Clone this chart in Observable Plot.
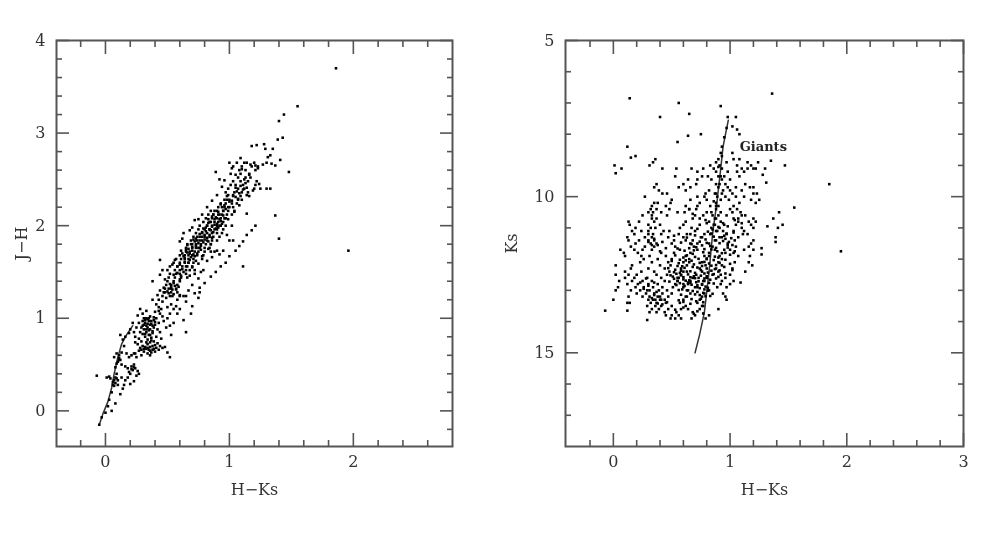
<!DOCTYPE html>
<html><head><meta charset="utf-8">
<script src="https://cdn.jsdelivr.net/npm/d3@7"></script>
<script src="https://cdn.jsdelivr.net/npm/@observablehq/plot@0.6"></script>
<style>
html,body{margin:0;padding:0;background:#fff;overflow:hidden}
#wrap{position:relative;width:981px;height:549px}
#wrap svg{position:absolute;top:0;filter:blur(0.7px)}
</style></head><body><div id="wrap"></div>
<script>
// Left panel: J-H against H-Ks
const leftOutliers=[[1.86,3.7],[1.96,1.73],[1.55,3.29],[1.44,3.2],[1.40,3.13],[1.40,1.86],[1.37,2.11],[1.48,2.58],[1.43,2.95],[1.39,2.93],[1.41,2.71],[1.11,1.56],[1.33,2.4],[1.30,2.4],[1.18,2.86],[1.22,2.87],[1.28,2.88],[1.29,2.83],[1.35,2.83],[1.31,2.74],[1.33,2.76],[1.30,2.68],[1.27,2.66],[1.34,2.67],[1.37,2.65],[1.09,2.73],[1.12,2.68],[1.17,2.66],[1.21,2.65],[1.23,2.62],[0.89,2.58],[1.14,2.13],[1.21,2.0],[1.18,1.95],[1.14,1.9],[1.11,1.83],[1.08,1.78],[1.05,1.73],[1.0,1.67],[0.97,1.6],[0.93,1.56],[0.89,1.5],[0.85,1.45],[0.8,1.38],[0.76,1.33],[0.72,1.27],[1.0,1.84],[1.03,1.84],[0.9,1.73],[0.95,1.73],[0.88,1.72],[0.92,1.69],[0.86,1.66],[0.82,1.62],[0.77,1.5],[0.75,1.43],[0.7,1.36],[0.67,1.3],[0.75,1.22],[0.65,1.18],[0.7,1.13],[0.69,1.05],[0.6,1.1],[0.58,1.05],[0.63,0.98],[0.55,0.95],[0.52,0.92],[0.65,0.85],[0.53,0.82],[0.52,0.58],[0.5,0.63],[0.44,1.63],[0.38,1.4]];
const leftSequence=[[-0.05,-0.15],[-0.03,-0.07],[0.0,-0.02],[0.02,0.05],[0.03,0.12],[0.05,0.2],[0.06,0.28],[0.04,0.35],[0.07,0.33],[0.09,0.4],[0.08,0.47],[0.1,0.53],[0.12,0.55],[0.11,0.6],[0.13,0.63],[0.15,0.7],[0.14,0.77],[0.16,0.8],[0.12,0.82],[0.19,0.84],[-0.07,0.38],[0.01,0.36],[0.03,0.37],[0.08,0.3],[0.1,0.28],[0.13,0.36],[0.16,0.33],[0.18,0.36],[0.2,0.29],[0.12,0.18],[0.14,0.24],[0.08,0.08],[0.19,0.42],[0.22,0.44],[0.24,0.46],[0.25,0.38],[0.21,0.48],[0.16,0.48],[0.19,0.58],[0.21,0.6],[0.24,0.62],[0.17,0.62],[0.27,0.4],[0.23,0.32],[0.15,0.28],[0.05,0.0],[0.11,0.55],[0.09,0.51],[0.13,0.5],[0.07,0.27],[0.06,0.31],[0.1,0.33],[0.18,0.46],[0.23,0.5],[0.26,0.43],[0.2,0.4],[0.09,0.62],[0.07,0.58]];
const leftClump=[[0.28,1.1],[0.26,1.03],[0.3,1.05],[0.33,1.0],[0.36,1.02],[0.39,0.98],[0.41,1.0],[0.27,0.95],[0.3,0.97],[0.32,0.95],[0.35,0.97],[0.37,0.94],[0.4,0.93],[0.43,0.95],[0.25,0.9],[0.29,0.9],[0.31,0.88],[0.34,0.9],[0.36,0.88],[0.39,0.9],[0.42,0.88],[0.28,0.85],[0.3,0.83],[0.33,0.85],[0.35,0.82],[0.38,0.84],[0.44,0.85],[0.24,0.8],[0.27,0.78],[0.32,0.8],[0.34,0.77],[0.37,0.79],[0.41,0.8],[0.45,0.78],[0.29,0.75],[0.33,0.74],[0.36,0.74],[0.39,0.75],[0.42,0.73],[0.24,0.74],[0.26,0.72],[0.28,0.68],[0.3,0.7],[0.33,0.67],[0.36,0.69],[0.38,0.66],[0.41,0.68],[0.44,0.7],[0.46,0.68],[0.27,0.65],[0.31,0.64],[0.34,0.62],[0.37,0.63],[0.4,0.64],[0.43,0.66],[0.48,0.69],[0.23,0.62],[0.36,0.6],[0.29,0.6],[0.25,0.58],[0.4,1.07],[0.43,1.12],[0.46,1.18],[0.49,0.9],[0.47,0.97],[0.5,1.0],[0.52,1.05],[0.55,1.1],[0.44,1.05],[0.33,1.08],[0.22,0.95],[0.2,0.88],[0.23,0.85],[0.45,1.1],[0.5,1.12],[0.53,1.15],[0.57,1.13],[0.41,1.15],[0.38,1.2],[0.43,1.2],[0.46,1.24],[0.42,1.25],[0.44,1.3],[0.47,1.33],[0.31,1.0],[0.34,0.99],[0.36,0.93],[0.33,0.92],[0.39,1.01],[0.3,0.92],[0.35,0.87],[0.32,0.83],[0.38,0.7],[0.35,0.66],[0.32,0.69],[0.4,0.71],[0.29,0.66],[0.37,0.76],[0.34,0.72],[0.43,1.08],[0.46,1.02],[0.49,1.22],[0.51,1.27],[0.54,1.24],[0.48,1.28],[0.58,1.2],[0.6,1.25],[0.63,1.24]];
const leftBandRows=[
[2.68,[1.0,1.06,1.14,1.2]],[2.64,[1.03,1.1,1.18,1.23]],[2.6,[1.08,1.13,1.21]],[2.56,[1.01,1.09,1.16]],[2.52,[1.07,1.13,1.17]],
[2.48,[1.03,1.09,1.15,1.22]],[2.44,[1.01,1.05,1.11,1.21]],[2.4,[.99,1.07,1.12,1.2,1.25]],[2.36,[.97,1.04,1.1,1.15]],
[2.32,[.98,1.03,1.09,1.16]],[2.28,[.96,1.0,1.07,1.1]],[2.24,[.93,.97,1.02,1.06]],[2.2,[.91,.96,.99,1.03]],
[2.16,[.85,.9,.95,.99,1.04]],[2.12,[.83,.87,.91,.94,.98,1.02]],[2.08,[.81,.86,.9,.93,.96]],[2.04,[.79,.84,.88,.91,.95]],
[2.0,[.76,.82,.86,.9,.93,.97]],[1.96,[.75,.8,.84,.88,.9,.95]],[1.92,[.73,.78,.82,.86,.9,.94]],[1.88,[.71,.76,.8,.84,.87,.92]],
[1.84,[.69,.74,.78,.82,.86,.9]],[1.8,[.66,.7,.73,.77,.81,.85]],[1.76,[.65,.7,.73,.76,.8,.84]],[1.72,[.65,.68,.72,.75,.8,.85]],
[1.68,[.6,.64,.67,.7,.74,.79]],[1.64,[.57,.61,.64,.67,.71,.78]],[1.6,[.55,.6,.64,.67,.71]],[1.56,[.52,.58,.62,.66,.7]],
[1.52,[.5,.56,.6,.65,.72]],[1.48,[.52,.57,.6,.65]],[1.44,[.51,.56,.61,.66]],[1.4,[.5,.55,.6]],
[1.36,[.49,.53,.58]],[1.32,[.48,.53,.57]],[1.28,[.47,.53,.58,.76]],[1.24,[.52,.6,.65]]];
const leftBandExtra=[[0.66,1.71],[0.63,1.67],[0.68,1.63],[0.61,1.73],[0.7,1.77],[0.72,1.83],[0.66,1.79],[0.74,1.7],[0.77,1.74],[0.69,1.66],[0.64,1.61],[0.6,1.58],[0.73,1.86],[0.67,1.75],[0.71,1.69],[0.75,1.81],[0.78,1.88],[0.81,1.94],[0.76,1.91],[0.84,1.9],[0.86,1.99],[0.79,1.97],[0.83,2.03],[0.88,2.07],[0.85,1.95],[0.9,2.02],[0.93,2.05],[0.87,2.12],[0.91,2.15],[0.82,2.0],[0.89,1.97],[0.95,2.11],[0.8,1.85],[0.83,1.83],[0.77,1.78],[0.86,1.87],[0.92,2.0],[0.97,2.18],[1.0,2.26],[0.94,2.2],[1.03,2.33],[1.06,2.37],[1.09,2.43],[1.05,2.41],[1.12,2.5],[1.16,2.55],[1.1,2.61],[1.05,2.55],[0.99,2.33],[1.13,2.46],[0.62,1.53],[0.58,1.49],[0.55,1.47],[0.53,1.34],[0.5,1.29],[0.57,1.31],[0.55,1.26],[0.48,1.42],[0.44,1.47],[0.46,1.52],[0.6,1.42],[0.68,1.46],[0.72,1.48],[0.79,1.52],[0.83,1.75],[0.85,1.8],[0.75,1.59],[0.7,1.55],[0.73,1.62],[0.78,1.67],[0.56,1.63],[0.54,1.58],[0.6,1.83],[0.62,1.86],[0.68,1.95],[0.7,1.98],[0.75,2.07],[0.78,2.12],[0.82,2.2],[0.86,2.27],[0.9,2.33],[0.94,2.42],[0.96,2.49],[0.92,2.5],[1.02,2.62],[0.63,1.92],[0.72,2.06],[0.98,1.9],[1.02,2.0],[0.99,2.07],[1.04,2.15],[1.08,2.22],[1.14,2.33],[1.19,2.38],[1.24,2.45]];
const leftCore=[[0.64,1.65],[0.67,1.6],[0.62,1.7],[0.65,1.74],[0.68,1.7],[0.7,1.73],[0.72,1.67],[0.69,1.8],[0.73,1.78],[0.75,1.76],[0.71,1.85],[0.74,1.88],[0.76,1.84],[0.79,1.82],[0.78,1.93],[0.8,1.9],[0.82,1.87],[0.81,1.98],[0.84,1.96],[0.87,1.93],[0.83,2.07],[0.85,2.04],[0.88,2.01],[0.91,1.98],[0.86,2.1],[0.89,2.09],[0.92,2.07],[0.94,2.02],[0.88,2.16],[0.92,2.12],[0.95,2.16],[0.97,2.08],[0.93,2.23],[0.96,2.22],[1.0,2.2],[0.98,2.28],[1.02,2.27],[1.05,2.31],[1.07,2.29],[1.08,2.35],[1.11,2.39],[1.14,2.41],[0.65,1.56],[0.63,1.5],[0.68,1.52],[0.58,1.56],[0.55,1.38],[0.52,1.37],[0.51,1.32],[0.54,1.31],[0.56,1.35],[0.59,1.34],[0.61,1.46],[0.35,1.0],[0.37,0.97],[0.32,0.98],[0.38,0.92],[0.33,0.88],[0.34,0.94],[0.31,0.93],[0.4,0.96],[0.38,0.86],[0.36,0.82],[0.34,0.68],[0.36,0.65],[0.39,0.67],[0.31,0.67],[0.11,0.57],[0.09,0.35],[0.08,0.36],[0.21,0.45],[0.23,0.47]];

// Right panel: Ks against H-Ks
const rightOutliers=[[1.36,6.7],[1.85,9.6],[1.95,11.75],[1.55,10.35],[0.14,6.85],[0.56,7.0],[0.92,7.1],[0.65,7.35],[0.4,7.45],[0.98,7.45],[1.05,7.45],[1.02,7.75],[1.06,7.85],[1.08,8.0],[0.75,8.0],[0.64,8.05],[0.55,8.25],[0.12,8.4],[0.19,8.7],[0.15,8.75],[0.01,9.0],[0.07,9.1],[0.02,9.25],[-0.07,13.65],[0.0,13.3],[0.12,13.4],[0.12,13.65],[0.29,13.95],[1.47,9.0],[1.35,8.85],[1.3,9.1],[1.28,9.3],[1.31,9.55],[1.22,9.1],[1.42,10.5],[1.37,10.7],[1.45,10.9],[1.41,11.0],[1.32,10.95],[1.39,11.3],[1.39,11.45],[1.27,11.65],[1.27,11.85],[1.19,12.2],[1.13,12.4],[1.09,12.75]];
const rightRows=[
[8.4,[.93]],[8.6,[.92,1.02]],[8.8,[.36,.9,1.03,1.08]],[8.9,[.34,.88,.97,1.15,1.24]],[9.0,[.31,.83,.91,1.06,1.18]],[9.1,[.42,.54,.67,.77,.86,.93,1.1,1.15,1.2]],[9.2,[.72,.88,.98,1.06,1.12]],[9.35,[.53,.76,.81,.9,.95,1.08]],[9.45,[.64,.72,.84,.93,1.0]],[9.6,[.37,.6,.71,.88,.96,1.13]],[9.7,[.35,.56,.66,.9,.98,1.05,1.17,1.2]],[9.8,[.39,.62,.82,.94,1.0,1.1]],[9.9,[.42,.46,.79,.87,.93,1.02,1.2,1.23]],
[10.0,[.27,.72,.78,.89,.96,1.05,1.12]],[10.1,[.5,.66,.8,.92,.99,1.18,1.25]],[10.2,[.35,.38,.49,.74,.88,1.08,1.22]],[10.3,[.33,.45,.62,.83,.9,1.03]],[10.4,[.32,.37,.48,.65,.71,.88,1.0,1.06]],[10.5,[.3,.34,.41,.55,.61,.8,.92,1.02,1.09]],[10.6,[.25,.33,.46,.7,.85,.97,1.1,1.13]],[10.7,[.33,.37,.68,.74,.87,1.03,1.07,1.2]],[10.8,[.13,.22,.35,.62,.82,.92,1.16,1.22]],[10.9,[.14,.3,.4,.6,.74,.87,.95,1.05,1.18]],
[11.0,[.19,.32,.36,.57,.67,.84,.91,1.1,1.2]],[11.1,[.16,.24,.3,.43,.48,.7,.88,.94,1.03,1.12]],[11.2,[.18,.3,.34,.41,.56,.63,.83,.97,1.11,1.15]],[11.3,[.12,.27,.33,.47,.6,.76,.93,1.07]],[11.4,[.13,.22,.3,.35,.52,.62,.88,1.04,1.2]],[11.5,[.19,.32,.37,.5,.66,.82,.98,1.18]],[11.6,[.15,.27,.35,.53,.69,.85,1.05,1.16]],[11.7,[.06,.18,.25,.33,.57,.72,.87,1.0,1.12,1.2]],
[11.8,[.09,.21,.41,.52,.66,.82,.96,1.03]],[11.9,[.1,.24,.31,.45,.62,.78,.91,1.07,1.17]],[12.0,[.26,.38,.5,.65,.8,.93]],[12.1,[.23,.33,.47,.6,.76,.9,1.04,1.16]],[12.2,[.02,.16,.4,.49,.63,.79,.93]],[12.3,[.15,.3,.44,.58,.74,.88,1.02]],[12.4,[.1,.24,.35,.48,.6,.76,.9]],[12.5,[.02,.13,.2,.37,.46,.58,.71,.85,1.0]],
[12.6,[.1,.18,.29,.41,.56,.68,.8,.96]],[12.7,[.05,.16,.25,.33,.44,.55,.66,.78,.93,1.03]],[12.8,[.12,.21,.3,.38,.53,.64,.76,.92,1.0]],[12.9,[.04,.19,.26,.34,.42,.6,.72,.89,.97]],[13.0,[.02,.15,.23,.31,.39,.46,.63,.82]],[13.1,[.2,.28,.35,.42,.5,.66,.78,.94]],[13.2,[.13,.25,.31,.38,.47,.62,.76,.96]],
[13.3,[.3,.34,.4,.44,.6,.74,.97]],[13.4,[.14,.32,.37,.45,.57,.72]],[13.5,[.29,.36,.41,.5,.62,.77]],[13.6,[.33,.39,.47,.58,.74,.9]],[13.7,[.31,.37,.44,.54,.68]],[13.8,[.45,.5,.56,.7,.82]],[13.9,[.49,.53,.58,.67,.79]]];
const rightDense=[[0.72,11.03],[0.81,11.12],[0.9,10.97],[0.97,11.18],[0.63,11.31],[0.7,11.24],[0.79,11.37],[0.86,11.28],[0.94,11.42],[1.01,11.33],[0.58,11.47],[0.67,11.52],[0.74,11.44],[0.83,11.58],[0.91,11.49],[0.98,11.63],[0.55,11.66],[0.61,11.73],[0.71,11.62],[0.77,11.78],[0.84,11.69],[0.93,11.81],[0.53,11.88],[0.6,11.95],[0.68,11.83],[0.73,11.99],[0.87,11.92],[0.96,12.02],[1.0,11.86],[0.5,12.06],[0.56,12.13],[0.62,12.04],[0.69,12.17],[0.78,12.09],[0.84,12.21],[0.91,12.12],[0.47,12.29],[0.53,12.34],[0.59,12.23],[0.66,12.39],[0.72,12.27],[0.81,12.43],[0.87,12.32],[0.96,12.46],[0.49,12.52],[0.54,12.47],[0.6,12.58],[0.64,12.49],[0.7,12.61],[0.75,12.53],[0.83,12.66],[0.9,12.57],[0.48,12.72],[0.52,12.63],[0.57,12.77],[0.62,12.69],[0.67,12.82],[0.73,12.71],[0.79,12.88],[0.86,12.78],[0.51,12.9],[0.56,12.99],[0.61,12.86],[0.68,13.02],[0.74,12.93],[0.77,13.08],[0.81,13.01],[0.85,13.11],[0.58,13.14],[0.63,13.2],[0.7,13.13],[0.75,13.27],[0.79,13.19],[0.6,13.37],[0.66,13.43],[0.71,13.35],[0.76,13.5],[0.64,13.6],[0.72,13.67],[0.77,13.74],[0.66,11.2],[0.76,11.56],[0.88,11.64],[0.82,11.9],[0.65,12.1],[0.75,12.35],[0.58,12.37],[0.69,12.55],[0.78,12.62],[0.55,12.6],[0.64,12.75],[0.72,12.84],[0.59,12.97],[0.89,11.1],[0.85,11.05],[0.8,10.85],[0.88,10.7],[0.84,10.5],[0.9,10.6],[0.88,10.3],[0.86,10.15],[0.88,9.9],[0.91,9.6],[0.92,9.35],[0.9,9.05],[0.93,8.7],[0.95,8.1],[0.97,7.8],[1.07,10.8],[1.1,10.85],[1.04,10.75],[0.98,10.95],[1.03,11.15],[1.0,12.15],[1.02,12.35],[0.42,11.45],[0.38,11.55],[0.35,11.35],[0.33,11.55],[0.3,11.45],[0.4,13.2],[0.37,13.05],[0.33,13.25],[0.42,13.45],[0.38,13.42],[0.36,13.3],[0.3,12.85],[0.26,12.95],[0.23,12.75],[0.65,10.4],[0.68,10.55],[0.72,10.3],[0.77,10.6],[0.95,11.25],[0.98,11.55],[1.04,11.75]];
const rightCore=[[0.75,11.3],[0.68,11.4],[0.72,11.5],[0.8,11.48],[0.87,11.4],[0.96,11.35],[0.78,11.68],[0.65,11.65],[0.69,11.72],[0.89,11.75],[0.95,11.7],[0.63,11.88],[0.7,11.93],[0.8,11.98],[0.86,12.03],[0.9,11.95],[0.57,12.02],[0.67,12.05],[0.74,12.12],[0.82,12.14],[0.88,12.19],[0.95,12.25],[0.55,12.22],[0.61,12.28],[0.68,12.25],[0.76,12.22],[0.8,12.3],[0.84,12.37],[0.91,12.36],[0.52,12.42],[0.57,12.44],[0.63,12.4],[0.7,12.44],[0.78,12.46],[0.86,12.48],[0.92,12.5],[0.51,12.56],[0.58,12.52],[0.66,12.58],[0.73,12.6],[0.8,12.55],[0.88,12.62],[0.55,12.7],[0.6,12.65],[0.65,12.68],[0.71,12.74],[0.77,12.7],[0.82,12.76],[0.54,12.83],[0.6,12.8],[0.66,12.76],[0.7,12.9],[0.76,12.82],[0.81,12.92],[0.64,13.0],[0.72,13.05],[0.78,12.97],[0.83,13.18],[0.74,13.15],[0.67,13.28],[0.77,13.38],[0.56,13.32],[0.53,13.62],[0.6,13.55],[0.69,13.75],[0.78,11.2],[0.84,11.18],[0.91,11.3],[0.99,11.45],[1.02,11.55],[0.86,10.9],[0.79,10.75],[0.94,10.85],[0.52,11.25],[0.45,11.65],[0.4,11.75],[0.29,13.0],[0.35,13.15],[0.41,13.3],[0.46,13.38],[0.28,12.62],[0.35,12.75]];

const leftLine=[[-0.05,-0.15],[-0.02,-0.03],[0.02,0.1],[0.05,0.25],[0.07,0.4],[0.1,0.58],[0.13,0.72],[0.17,0.82],[0.22,0.92]];
const rightLine=[[0.7,15],[0.74,14.4],[0.78,13.7],[0.82,12.4],[0.85,11.2],[0.89,10.1],[0.92,9.1],[0.94,8.4],[0.985,7.55]];
const rightLabel=[{x:1.285,y:8.39,text:"Giants"}];

const leftMajorX=[0,1,2], leftMinorX=[-0.2,0.2,0.4,0.6,0.8,1.2,1.4,1.6,1.8,2.2,2.4,2.6];
const leftMajorY=[0,1,2,3,4], leftMinorY=[-0.2,0.2,0.4,0.6,0.8,1.2,1.4,1.6,1.8,2.2,2.4,2.6,2.8,3.2,3.4,3.6,3.8];
const rightMajorX=[0,1,2,3], rightMinorX=[-0.2,0.2,0.4,0.6,0.8,1.2,1.4,1.6,1.8,2.2,2.4,2.6,2.8];
const rightMajorY=[5,10,15], rightMinorY=[6,7,8,9,11,12,13,14,16,17];

const unrow=rows=>rows.flatMap(([v,xs])=>xs.map(x=>[x,v]));
const INK="#555";
const blank=()=>"";
function panel({pts,line,xDom,yDom,mx,nx,my,ny,yLabel,yOff,width,left,ml,mr,labels=[]}){
  const tick=(axis,anchor,ticks,size)=>axis({anchor,ticks,tickSize:-size,tickFormat:blank,label:null,stroke:INK,strokeWidth:1.6});
  const svg=Plot.plot({
    width,height:549,marginLeft:ml,marginRight:mr,marginTop:40,marginBottom:103,
    style:{fontFamily:"'DejaVu Serif',serif",fontSize:"16px",color:"#333",background:"transparent"},
    x:{domain:xDom},y:{domain:yDom},
    marks:[
      Plot.line(line,{x:d=>d[0],y:d=>d[1],stroke:"#333",strokeWidth:1.5}),
      Plot.dot(pts,{x:d=>d[0],y:d=>d[1],symbol:"square",r:1.45,fill:"#000",stroke:"none"}),
      Plot.text(labels,{x:"x",y:"y",text:"text",fontSize:13,fontWeight:"bold",fill:"#222"}),
      tick(Plot.axisX,"bottom",mx,13),tick(Plot.axisX,"top",mx,13),
      tick(Plot.axisX,"bottom",nx,6),tick(Plot.axisX,"top",nx,6),
      tick(Plot.axisY,"left",my,13),tick(Plot.axisY,"right",my,13),
      tick(Plot.axisY,"left",ny,6),tick(Plot.axisY,"right",ny,6),
      Plot.axisX({anchor:"bottom",ticks:mx,tickSize:0,tickPadding:9,tickFormat:d=>String(d),label:"H−Ks",labelAnchor:"center",labelArrow:"none",labelOffset:48,fontSize:16}),
      Plot.axisY({anchor:"left",ticks:my,tickSize:0,tickPadding:11,tickFormat:d=>String(d),label:yLabel,labelAnchor:"center",labelArrow:"none",labelOffset:yOff,fontSize:16}),
      Plot.frame({stroke:INK,strokeWidth:2})
    ]});
  svg.style.left=left+"px";
  document.getElementById("wrap").appendChild(svg);
}
panel({pts:[...leftOutliers,...leftSequence,...leftClump,...unrow(leftBandRows),...leftBandExtra,...leftCore],line:leftLine,xDom:[-0.395,2.8],yDom:[-0.385,4],
  mx:leftMajorX,nx:leftMinorX,my:leftMajorY,ny:leftMinorY,yLabel:"J−H",yOff:41,width:490,left:0,ml:56,mr:38});
panel({pts:[...rightOutliers,...unrow(rightRows),...rightDense,...rightCore],line:rightLine,xDom:[-0.41,3],yDom:[18,5],
  mx:rightMajorX,nx:rightMinorX,my:rightMajorY,ny:rightMinorY,yLabel:"Ks",yOff:60,width:491,left:490,ml:75,mr:18,labels:rightLabel});
</script></body></html>
